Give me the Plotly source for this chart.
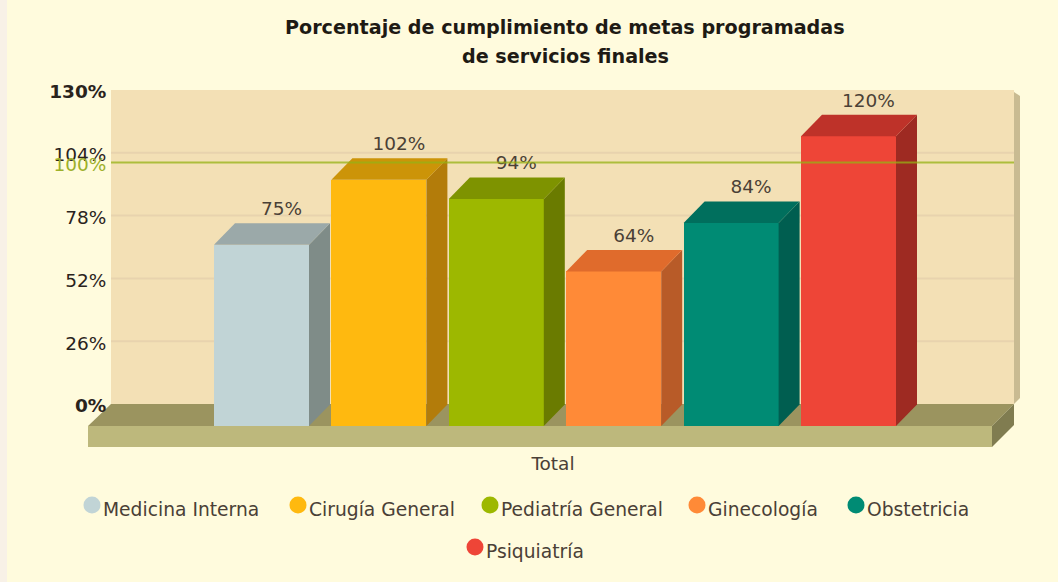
import plotly.graph_objects as go

categories = ["Medicina Interna", "Cirugía General", "Pediatría General", "Ginecología", "Obstetricia", "Psiquiatría"]
values = [75, 102, 94, 64, 84, 120]
front_colors = ["#C1D4D6", "#FFB90F", "#9DB800", "#FF8A37", "#008B74", "#EE4537"]
top_colors = ["#9BA9A9", "#CC9408", "#7E9300", "#E06B2C", "#006F5D", "#BE3229"]
side_colors = ["#7F8C88", "#B37C0A", "#6A7B00", "#B85B28", "#005E50", "#9E2A22"]
tick_values = [0, 26, 52, 78, 104, 130]
goal_value = 100
group_label = "Total"
title_lines = ["Porcentaje de cumplimiento de metas programadas", "de servicios finales"]

W, H = 1058, 582
L, R, T, B = 88, 1020, 90, 582
FLOOR_B = 447
Y0_FRONT, Y0_BACK = 426, 404
PX_PER_PCT = (Y0_BACK - T) / 130
STEP = 117.4
X0 = 261.5
WALL_L, WALL_R = 111, 1014
BAR_W = 95 / STEP
DX = 21 / STEP
DY = 21.5 / PX_PER_PCT
FONT = "DejaVu Sans"
TEXT = "#4A4036"


def xp(px):
    return (px - X0) / STEP


def yp(py):
    return (Y0_FRONT - py) / PX_PER_PCT


fig = go.Figure()
idx = list(range(len(categories)))

shapes = []


def poly(points, color, layer="below"):
    path = "M" + " L".join(f"{xp(a):.4f},{yp(b):.3f}" for a, b in points) + " Z"
    shapes.append(dict(type="path", path=path, xref="x", yref="y", layer=layer,
                       fillcolor=color, line=dict(width=0)))


poly([(WALL_R, T + 2), (R, T + 6), (R, 398), (WALL_R, Y0_BACK)], "#C9BB92")
poly([(WALL_L, T), (WALL_R, T), (WALL_R, Y0_BACK), (WALL_L, Y0_BACK)], "#F3E0B5")
poly([(L, Y0_FRONT), (WALL_L, Y0_BACK), (WALL_R, Y0_BACK), (992, Y0_FRONT)], "#9B945F")
poly([(L, Y0_FRONT), (992, Y0_FRONT), (992, FLOOR_B), (L, FLOOR_B)], "#BDB87C")
poly([(992, Y0_FRONT), (WALL_R, Y0_BACK), (WALL_R, 425), (992, FLOOR_B)], "#807C50")
for v in tick_values[1:-1]:
    shapes.append(dict(type="line", xref="x", yref="y2", layer="below",
                       x0=xp(WALL_L), x1=xp(WALL_R), y0=v, y1=v,
                       line=dict(color="#E8D3AE", width=2)))
shapes.append(dict(type="rect", xref="paper", yref="paper", layer="below",
                   x0=-L / (R - L), x1=(7 - L) / (R - L), y0=-1, y1=2,
                   fillcolor="#F8F1E7", line=dict(width=0)))

for i in idx:
    fig.add_trace(go.Bar(x=[i], y=[values[i]], width=BAR_W, name=categories[i],
                         marker=dict(color=front_colors[i], line=dict(width=0)),
                         showlegend=False, hoverinfo="skip"))
for i in idx:
    xr = i + BAR_W / 2
    xl = i - BAR_W / 2
    v = values[i]
    fig.add_trace(go.Scatter(x=[xr, xr + DX, xr + DX, xr, xr], y=[0, DY, v + DY, v, 0],
                             mode="lines", fill="toself", fillcolor=side_colors[i],
                             line=dict(width=0), showlegend=False, hoverinfo="skip"))
    fig.add_trace(go.Scatter(x=[xl, xl + DX, xr + DX, xr, xl], y=[v, v + DY, v + DY, v, v],
                             mode="lines", fill="toself", fillcolor=top_colors[i],
                             line=dict(width=0), showlegend=False, hoverinfo="skip"))

fig.add_trace(go.Scatter(x=[xp(WALL_L), xp(WALL_R)], y=[goal_value, goal_value], yaxis="y2",
                         mode="lines", line=dict(color="rgba(150,178,20,0.75)", width=2),
                         showlegend=False, hoverinfo="skip"))

LABEL_GAP = 3.5 / PX_PER_PCT
fig.add_trace(go.Scatter(x=[i + DX - 1 / STEP for i in idx], y=[v + DY + LABEL_GAP for v in values], mode="text",
                         text=[f"{v}%" for v in values], textposition="top center",
                         textfont=dict(family=FONT, size=18.5, color=TEXT),
                         cliponaxis=False, showlegend=False, hoverinfo="skip"))

legend_marker_px = [(92, 505), (298, 505), (490, 505), (697, 505), (856, 505), (475, 547)]
for (mx, my), name, col in zip(legend_marker_px, categories, front_colors):
    fig.add_trace(go.Scatter(x=[xp(mx)], y=[yp(my)], mode="markers", name=name,
                             marker=dict(color=col, size=17, line=dict(width=0)),
                             cliponaxis=False, showlegend=False, hoverinfo="skip"))
    fig.add_trace(go.Scatter(x=[xp(mx + 11)], y=[yp(my + 6.5)], mode="text", text=[name],
                             textposition="middle right",
                             textfont=dict(family=FONT, size=18.7, color=TEXT),
                             cliponaxis=False, showlegend=False, hoverinfo="skip"))

for line, py in zip(title_lines, (27, 56)):
    fig.add_annotation(xref="paper", yref="paper", x=(565 - L) / (R - L), y=(B - py) / (B - T),
                       text=f"<b>{line}</b>", showarrow=False, xanchor="center", yanchor="middle",
                       font=dict(family=FONT, size=19.15, color="#1E1A14"))


def tick_text(v):
    if v in (tick_values[0], tick_values[-1]):
        return f"<b>{v}%</b>"
    return f"{v}%"


y2_vals = tick_values + [goal_value]
y2_text = [tick_text(v) for v in tick_values] + [f'<span style="color:#9DB02A">{goal_value}%</span>']

fig.update_layout(
    width=W, height=H, autosize=False,
    margin=dict(l=L, r=W - R, t=T, b=H - B, pad=0),
    paper_bgcolor="#FFFBDD", plot_bgcolor="rgba(0,0,0,0)",
    barmode="overlay", bargap=0, showlegend=False, shapes=shapes,
    font=dict(family=FONT, color=TEXT),
    xaxis=dict(range=[xp(L), xp(R)], tickmode="array", tickvals=[(len(values) - 1) / 2],
               ticktext=[group_label], showgrid=False, zeroline=False, showline=False,
               anchor="free", position=(B - FLOOR_B) / (B - T),
               ticks="outside", ticklen=0, tickcolor="rgba(0,0,0,0)", ticklabelshift=-2,
               tickfont=dict(family=FONT, size=18.5, color=TEXT)),
    yaxis=dict(range=[yp(B), yp(T)], visible=False, showgrid=False, zeroline=False),
    yaxis2=dict(overlaying="y", anchor="free", side="left", position=(WALL_L - L) / (R - L),
                range=[(Y0_BACK - B) / PX_PER_PCT, 130], tickmode="array", tickvals=y2_vals,
                ticktext=y2_text, showgrid=False, zeroline=False, showline=False,
                ticks="outside", ticklen=1, tickcolor="rgba(0,0,0,0)", ticklabelshift=2,
                tickfont=dict(family=FONT, size=18.5, color="#2A231C")),
)

fig.write_html("out.html", config=dict(displayModeBar=False),
               post_script="document.body.style.margin='0';document.body.style.overflow='hidden';")
